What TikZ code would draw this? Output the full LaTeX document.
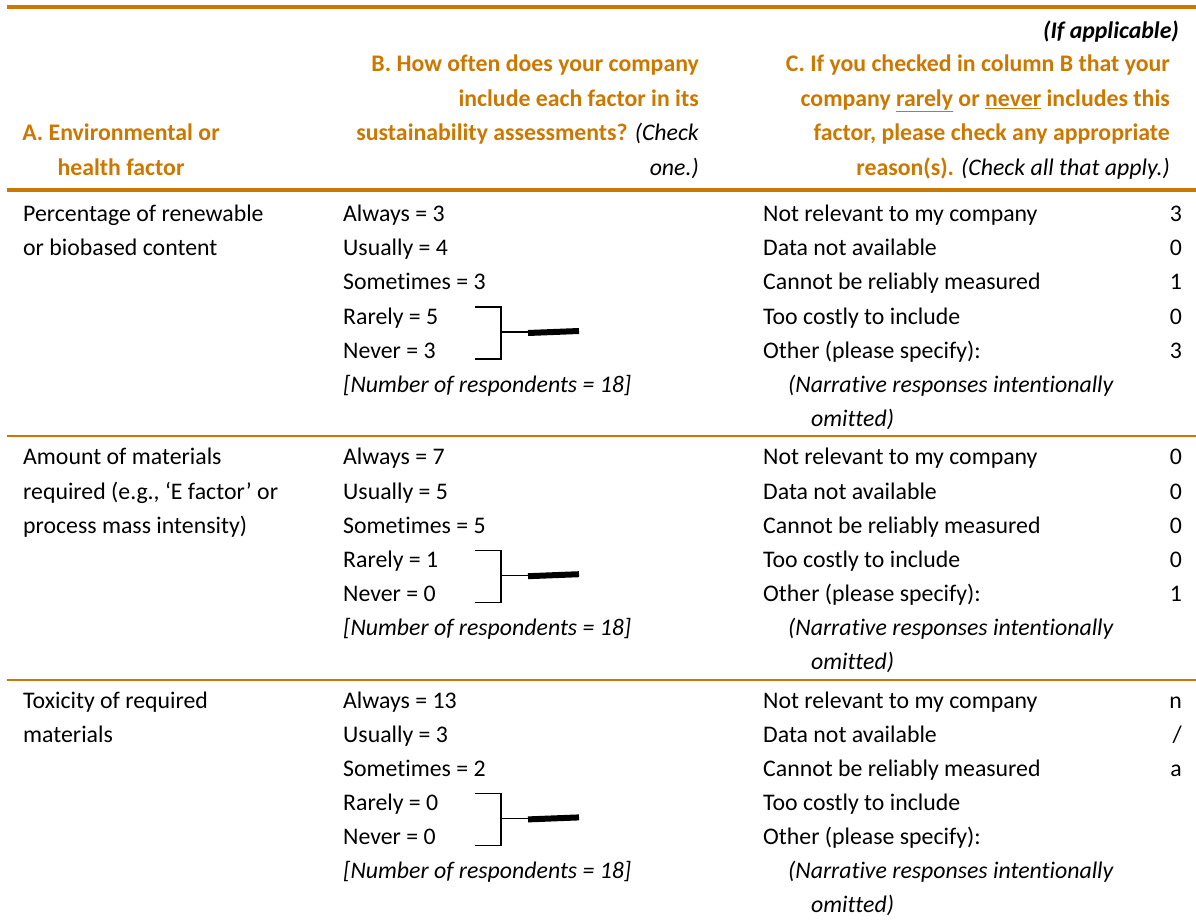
\documentclass[tikz,border=0pt]{standalone}
\usepackage{fontspec}
\setmainfont{Carlito}[Ligatures=NoCommon]
\definecolor{hdr}{RGB}{204,120,0}
\begin{document}
\begin{tikzpicture}[x=1pt,y=-1pt,
	every node/.style={inner sep=0pt,font=\fontsize{23.8}{34}\selectfont},
	cell/.style={anchor=base west},
	count/.style={anchor=base east},
	head/.style={anchor=base east,text=hdr,font=\fontsize{23.8}{34}\selectfont\bfseries},
	note/.style={anchor=base west,font=\fontsize{23.8}{34}\selectfont\itshape},
	thick rule/.style={draw=hdr,line width=3.4pt},
	thin rule/.style={draw=hdr,line width=1.4pt},
	brace/.style={line width=1.4pt},
	bar/.style={line width=6pt}]
	\useasboundingbox (0,0) rectangle (1196,920);
	% rules
	\draw[thick rule] (7,7) -- (1196,7);
	\draw[thick rule] (7,190) -- (1196,190);
	\draw[thin rule] (7,436) -- (1196,436);
	\draw[thin rule] (7,680) -- (1196,680);
	% header
	\node[anchor=base east,font=\fontsize{23.8}{34}\selectfont\bfseries\itshape] (ifapp) at (1179,38.3) {(If applicable)};
	\node[head,anchor=base] (ha1) at (121,141) {A. Environmental or};
	\node[head,anchor=base] (ha2) at (121,175.7) {health factor};
	\node[head] (hb1) at (699,71.7) {B. How often does your company};
	\node[head] (hb2) at (699,106.4) {include each factor in its};
	\node[head] (hb3) at (699,141) {sustainability assessments? {\color{black}\mdseries\itshape (Check}};
	\node[head] (hb4) at (699,175.7) {\color{black}\mdseries\itshape one.)};
	\node[head] (hc1) at (1170,71.7) {C. If you checked in column B that your};
	\node[head] (hc2) at (1170,106.4) {company \underline{rarely} or \underline{never} includes this};
	\node[head] (hc3) at (1170,141) {factor, please check any appropriate};
	\node[head] (hc4) at (1170,175.7) {reason(s). {\color{black}\mdseries\itshape (Check all that apply.)}};
	% column A
	\node[cell] (a0-0) at (23,221.7) {Percentage of renewable};
	\node[cell] (a0-1) at (23,255.8) {or biobased content};
	\node[cell] (a1-0) at (23,464.9) {Amount of materials};
	\node[cell] (a1-1) at (23,499) {required (e.g., ‘E factor’ or};
	\node[cell] (a1-2) at (23,533.1) {process mass intensity)};
	\node[cell] (a2-0) at (23,708.1) {Toxicity of required};
	\node[cell] (a2-1) at (23,742.2) {materials};
	% columns B and C
	\foreach \r/\al/\us/\so/\ra/\ne in {0/3/4/3/5/3, 1/7/5/5/1/0, 2/13/3/2/0/0} {
		\pgfmathsetmacro\y{221.7+243.2*\r}
		\node[cell] (b\r-0) at (343,\y) {Always = \al};
		\node[cell] (b\r-1) at (343,\y+34.1) {Usually = \us};
		\node[cell] (b\r-2) at (343,\y+68.2) {Sometimes = \so};
		\node[cell] (b\r-3) at (343,\y+102.3) {Rarely = \ra};
		\node[cell] (b\r-4) at (343,\y+136.4) {Never = \ne};
		\node[note] (b\r-5) at (343,\y+170.5) {[Number of respondents = 18]};
		\foreach \t [count=\k from 0] in {Not relevant to my company, Data not available,
			Cannot be reliably measured, Too costly to include, Other (please specify):}
			\node[cell] (c\r-\k) at (763,\y+34.1*\k) {\t};
		\node[note] (n\r-0) at (788,\y+170.5) {(Narrative responses intentionally};
		\node[note] (n\r-1) at (811,\y+204.6) {omitted)};
		% bracket to column C
		\coordinate (top\r) at (475,\y+85.3);
		\coordinate (bot\r) at (475,\y+137.3);
		\coordinate (mid\r) at (501,\y+110.3);
		\coordinate (tip\r) at (579,\y+109.3);
		\draw[brace] (top\r) -| (mid\r) |- (bot\r);
		\draw[brace] (mid\r) -- ++(27,0) coordinate (bar\r);
		\draw[bar] ([yshift=-1pt]bar\r) -- (tip\r);
	}
	% counts
	\foreach \v [count=\k from 0] in {3,0,1,0,3}
		\node[count] (v0-\k) at (1182,221.7+34.1*\k) {\v};
	\foreach \v [count=\k from 0] in {0,0,0,0,1}
		\node[count] (v1-\k) at (1182,464.9+34.1*\k) {\v};
	\node[count] (v2-0) at (1182,708.1) {n};
	\node[count] (v2-1) at (1182,742.2) {/};
	\node[count] (v2-2) at (1182,776.3) {a};
\end{tikzpicture}
\end{document}
